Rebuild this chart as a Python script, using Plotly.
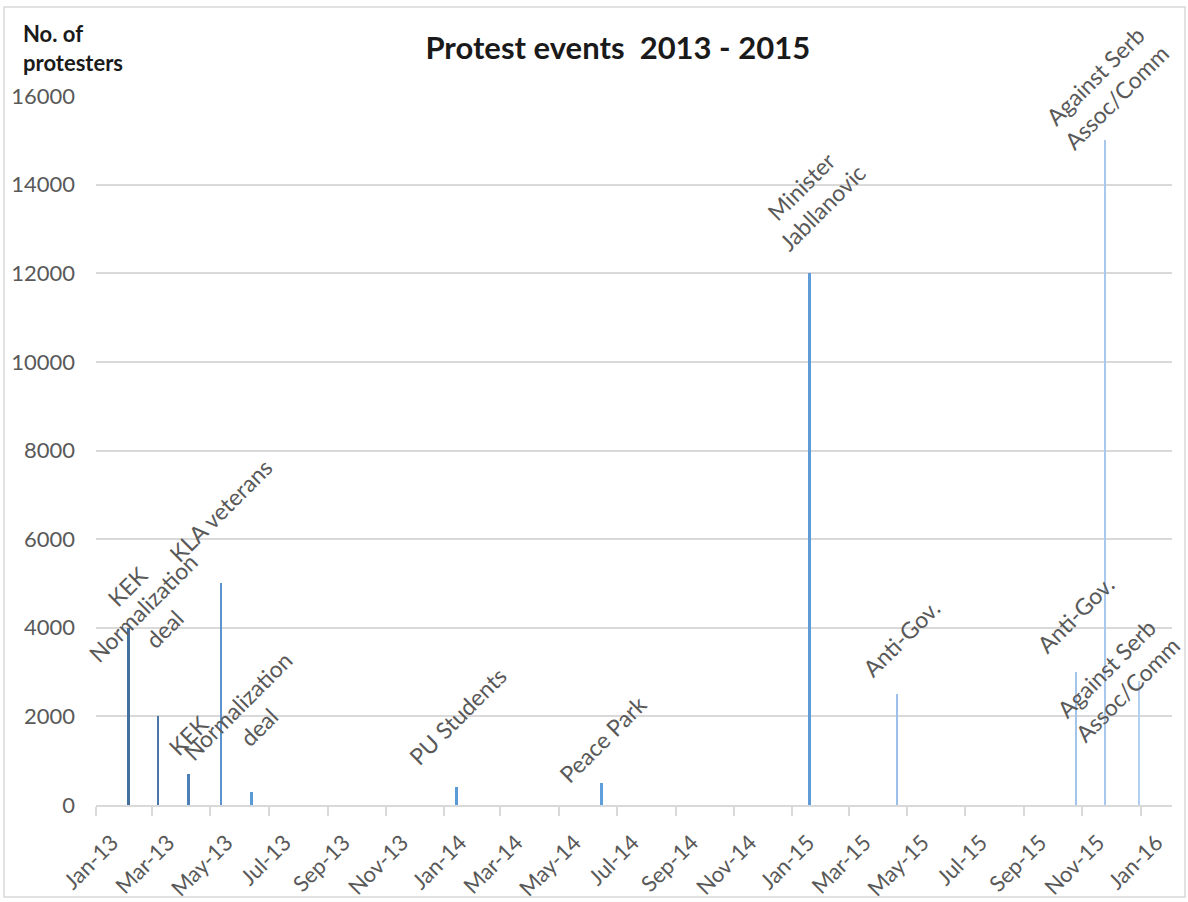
import plotly.graph_objects as go
import pandas as pd

# ---- data ----
event_dates = ["2013-02-04", "2013-03-07", "2013-04-08", "2013-05-12", "2013-06-13",
               "2014-01-14", "2014-06-15", "2015-01-19", "2015-04-21",
               "2015-10-25", "2015-11-25", "2015-12-30"]
protesters = [4000, 2000, 700, 5000, 300, 400, 500, 12000, 2500, 3000, 15000, 2800]
event_labels = ["KEK", "Normalization<br>deal", "KEK", "KLA veterans", "Normalization<br>deal",
                "PU Students", "Peace Park", "Minister<br>Jabllanovic", "Anti-Gov.",
                "Anti-Gov.", "Against Serb<br>Assoc/Comm", "Against Serb<br>Assoc/Comm"]
y_ticks = [0, 2000, 4000, 6000, 8000, 10000, 12000, 14000, 16000]
x_tick_dates = list(pd.date_range("2013-01-01", "2016-01-01", freq="2MS"))

# ---- styling ----
bar_colors = ["#44709d", "#4a77a8", "#4e80b8", "#5a93cf", "#5b9bd5", "#5b9bd5",
              "#5fa0dc", "#5f9bd7", "#9cc0ea", "#a2c3ea", "#a9c8ee", "#b4d0f0"]
bar_widths_days = [3.0, 2.8, 2.8, 2.6, 2.6, 2.4, 2.4, 2.4, 2.2, 2.2, 2.2, 2.2]
label_dx = [-1, -4, 0, 0, -3, 1, 1, 2, 4, 0, 1, -22]
label_dy = [42, 98, 39, 73, 76, 71, 44, 76, 56, 58, 54, 2]
GRAY = "#595959"
GRID = "#d9d9d9"
FONT = "Lato"
DAY_MS = 86400000

fig = go.Figure()
fig.add_trace(go.Bar(
    x=event_dates, y=protesters,
    width=[w * DAY_MS for w in bar_widths_days],
    marker=dict(color=bar_colors, line=dict(width=0)),
    hoverinfo="x+y",
))

annotations = []
for d, v, t, dx, dy in zip(event_dates, protesters, event_labels, label_dx, label_dy):
    annotations.append(dict(
        x=d, y=v, xref="x", yref="y", text=t, showarrow=False,
        textangle=-45, xanchor="center", yanchor="middle", align="center",
        xshift=dx, yshift=dy,
        font=dict(family=FONT, size=23, color=GRAY),
    ))

annotations.append(dict(
    xref="paper", yref="paper", x=-0.070, y=1.11, xanchor="left", yanchor="top",
    align="left", showarrow=False, text="<b>No. of<br>protesters</b>",
    font=dict(family=FONT, size=22, color="#1a1a1a"),
))

fig.update_layout(
    width=1188, height=902,
    margin=dict(l=96, r=16, t=96, b=97, autoexpand=False),
    paper_bgcolor="white", plot_bgcolor="white",
    showlegend=False,
    title=dict(text="<b>Protest events\u00a0 2013 - 2015</b>", x=0.52, xanchor="center",
               y=0.947, yanchor="middle",
               font=dict(family=FONT, size=31, color="#1a1a1a")),
    annotations=annotations,
    shapes=[dict(type="rect", xref="paper", yref="paper",
                 x0=-0.0855, x1=1.0121, y0=-0.1298, y1=1.1255,
                 line=dict(color=GRID, width=1.5), layer="below")],
    bargap=0,
)

fig.update_xaxes(
    type="date", range=["2013-01-01", "2016-02-03"],
    tickvals=x_tick_dates, tickformat="%b-%y", tickangle=-45,
    ticks="outside", ticklen=9, tickwidth=1.5, tickcolor=GRID,
    showline=True, linecolor=GRID, linewidth=2,
    showgrid=False, zeroline=False,
    ticklabelshift=16, ticklabelstandoff=5,
    tickfont=dict(family=FONT, size=22, color=GRAY),
)
fig.update_yaxes(
    range=[0, 16000], tickvals=y_ticks, tickformat="d",
    showgrid=True, gridcolor=GRID, gridwidth=1.5,
    zeroline=False, showline=False, ticks="",
    ticklabelstandoff=20,
    tickfont=dict(family=FONT, size=22, color=GRAY),
)

fig.write_html("out.html", config={"displayModeBar": False},
               post_script="document.body.style.margin='0';document.body.style.overflow='hidden';")
